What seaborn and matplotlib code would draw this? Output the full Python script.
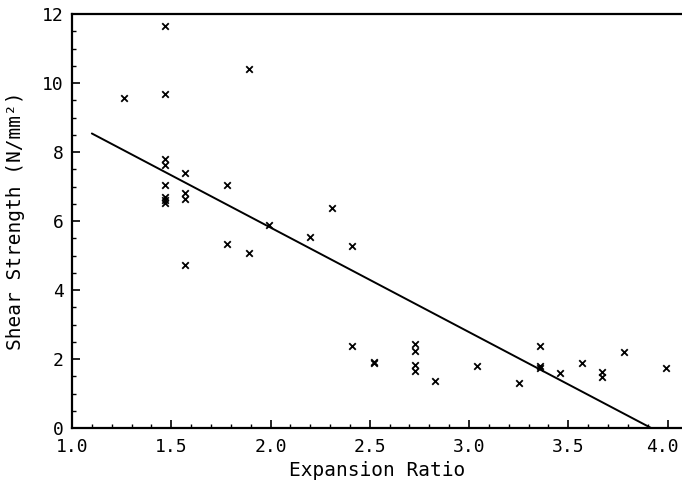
import numpy as np
import pandas as pd
import matplotlib
matplotlib.use("Agg")
import matplotlib.pyplot as plt
import matplotlib.transforms as mtransforms
from matplotlib.ticker import MultipleLocator
import seaborn as sns

# Measured shear strength against expansion ratio
expansion_ratio = [
    1.26,
    1.47, 1.47, 1.47, 1.47, 1.47, 1.47, 1.47, 1.47,
    1.57, 1.57, 1.57, 1.57,
    1.78, 1.78,
    1.89, 1.89,
    1.99, 2.20, 2.31,
    2.41, 2.41,
    2.52, 2.52,
    2.73, 2.73, 2.73, 2.73,
    2.83, 3.04, 3.25,
    3.36, 3.36, 3.36,
    3.46, 3.57, 3.67, 3.67, 3.78, 3.99,
]
shear_strength = [
    9.56,
    11.65, 9.68, 7.80, 7.62, 7.04, 6.70, 6.60, 6.52,
    7.38, 6.80, 6.63, 4.72,
    7.04, 5.32,
    10.40, 5.06,
    5.88, 5.55, 6.37,
    5.28, 2.38,
    1.92, 1.87,
    2.43, 2.24, 1.83, 1.66,
    1.36, 1.81, 1.31,
    2.39, 1.80, 1.74,
    1.60, 1.89, 1.63, 1.49, 2.19, 1.73,
]

# Fitted straight line: strength = intercept + slope * ratio
fit_intercept = 11.87
fit_slope = -3.03
fit_range = [1.10, 3.918]

x_ticks = [1.0, 1.5, 2.0, 2.5, 3.0, 3.5, 4.0]
x_tick_labels = ["1.0", "1.5", "2.0", "2.5", "3.0", "3.5", "4.0"]
y_ticks = [0, 2, 4, 6, 8, 10, 12]
y_tick_labels = ["0", "2", "4", "6", "8", "10", "12"]

df = pd.DataFrame({"ratio": expansion_ratio, "strength": shear_strength})
fit_x = np.array(fit_range)
fit_df = pd.DataFrame({"ratio": fit_x, "strength": fit_intercept + fit_slope * fit_x})

sns.set_theme(style="ticks")
plt.rcParams["font.family"] = ["DejaVu Sans Mono", "DejaVu Sans"]

fig = plt.figure(figsize=(6.82, 4.86), dpi=100)
ax = fig.add_axes([72 / 682, 1 - 428 / 486, 1 - 72 / 682, (428 - 14) / 486])

sns.lineplot(data=fit_df, x="ratio", y="strength", ax=ax, color="black",
             linewidth=1.4, clip_on=False)
sns.scatterplot(data=df, x="ratio", y="strength", ax=ax, marker="x",
                color="black", s=22, linewidth=1.3, zorder=3)

ax.set_xlim(1.0, 4.073)
ax.set_ylim(0, 12)
ax.set_xticks(x_ticks)
ax.set_xticklabels(x_tick_labels)
ax.set_yticks(y_ticks)
ax.set_yticklabels(y_tick_labels)
ax.xaxis.set_minor_locator(MultipleLocator(0.1))
ax.yaxis.set_minor_locator(MultipleLocator(0.5))

ax.tick_params(which="major", direction="in", length=6, width=1.2,
               labelsize=13, colors="black")
ax.tick_params(axis="x", which="major", pad=7)
ax.tick_params(axis="y", which="major", pad=6)
ax.tick_params(which="minor", direction="in", length=3, width=1.0, colors="black")
for side in ("left", "bottom", "top"):
    ax.spines[side].set_linewidth(1.6)
    ax.spines[side].set_color("black")
ax.spines["right"].set_visible(False)

# keep the last x label inside the figure edge
last = ax.get_xticklabels()[-1]
last.set_transform(last.get_transform() +
                   mtransforms.ScaledTranslation(-5 / 100, 0, fig.dpi_scale_trans))

ax.set_xlabel("Expansion Ratio", fontsize=14, labelpad=4, color="black")
ax.set_ylabel("Shear Strength (N/mm²)", fontsize=14, labelpad=12, color="black")

fig.savefig("out.png", dpi=100, facecolor="white")
